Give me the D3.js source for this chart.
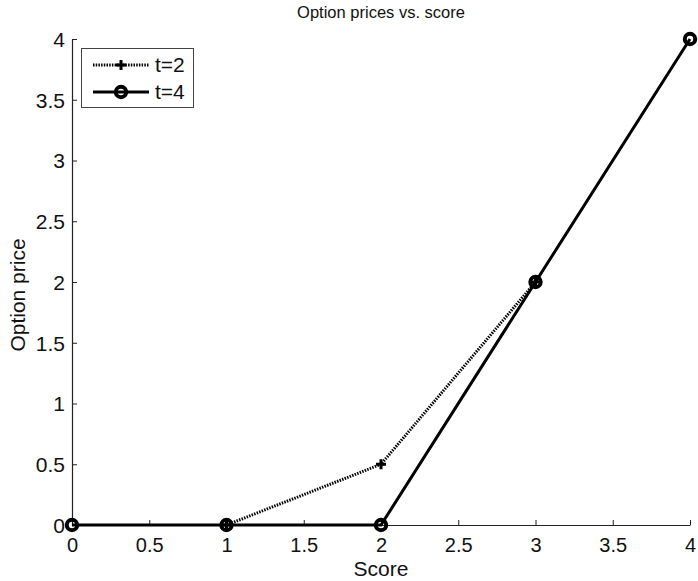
<!DOCTYPE html>
<html>
<head>
<meta charset="utf-8">
<script src="https://cdn.jsdelivr.net/npm/d3@7"></script>
<style>
  html, body { margin: 0; padding: 0; background: #fff; }
  svg { display: block; font-family: "Liberation Sans", Arial, sans-serif; }
</style>
</head>
<body>
<svg id="chart" width="698" height="581"></svg>
<script>
// Score grid for the t=4 curve
const scoresT4 = [0, 1, 2, 3, 4];
const pricesT4 = [0, 0, 0, 2, 4];
// Score grid for the t=2 curve
const scoresT2 = [1, 2, 3];
const pricesT2 = [0, 0.5, 2];
const seriesNames = ["t=2", "t=4"];
const xTicks = [0, 0.5, 1, 1.5, 2, 2.5, 3, 3.5, 4];
const yTicks = [0, 0.5, 1, 1.5, 2, 2.5, 3, 3.5, 4];

const svg = d3.select("#chart");
const plotLeft = 72, plotRight = 690, plotTop = 39, plotBottom = 525;
const font = "'Liberation Sans', Arial, sans-serif";

const x = d3.scaleLinear().domain([0, 4]).range([plotLeft, plotRight]);
const y = d3.scaleLinear().domain([0, 4]).range([plotBottom, plotTop]);

// Axes (ticks point inward, no box)
const xAxis = d3.axisBottom(x).tickValues(xTicks).tickFormat(d3.format("~g"))
  .tickSizeInner(-5).tickSizeOuter(0).tickPadding(13);
const yAxis = d3.axisLeft(y).tickValues(yTicks).tickFormat(d3.format("~g"))
  .tickSizeInner(-5).tickSizeOuter(0).tickPadding(7);

const gx = svg.append("g").attr("transform", `translate(0,${plotBottom})`).call(xAxis);
const gy = svg.append("g").attr("transform", `translate(${plotLeft},0)`).call(yAxis);
[gx, gy].forEach(g => {
  g.select(".domain").attr("stroke", "#222").attr("stroke-width", 1.2);
  g.selectAll(".tick line").attr("stroke", "#222").attr("stroke-width", 1);
  g.selectAll(".tick text").attr("fill", "#111").style("font-size", "20px")
    .style("font-family", font);
});
gy.selectAll(".tick text").attr("dy", "0.35em").style("font-size", "21px");

// Title and axis labels
svg.append("text").attr("x", (plotLeft + plotRight) / 2).attr("y", 18)
  .attr("text-anchor", "middle").style("font-size", "16.5px").attr("fill", "#111")
  .text("Option prices vs. score");
svg.append("text").attr("x", (plotLeft + plotRight) / 2).attr("y", 576)
  .attr("text-anchor", "middle").style("font-size", "21px").attr("fill", "#111")
  .text("Score");
svg.append("text").attr("transform", `translate(25,295) rotate(-90)`)
  .attr("text-anchor", "middle").style("font-size", "21px").attr("fill", "#111")
  .text("Option price");

const line = d3.line().x(d => x(d[0])).y(d => y(d[1]));
const t2 = scoresT2.map((s, i) => [s, pricesT2[i]]);
const t4 = scoresT4.map((s, i) => [s, pricesT4[i]]);

// t=4 : solid line, open circles
svg.append("path").datum(t4).attr("d", line)
  .attr("fill", "none").attr("stroke", "#000").attr("stroke-width", 3);
// t=2 : dotted line, plus markers
svg.append("path").datum(t2).attr("d", line)
  .attr("fill", "none").attr("stroke", "#000").attr("stroke-width", 3)
  .attr("stroke-dasharray", "1.5,1.2");

function plus(g, cx, cy, r) {
  g.append("path")
    .attr("d", `M${cx - r},${cy}H${cx + r}M${cx},${cy - r}V${cy + r}`)
    .attr("stroke", "#000").attr("stroke-width", 3).attr("fill", "none");
}
function circle(g, cx, cy) {
  g.append("circle").attr("cx", cx).attr("cy", cy).attr("r", 5.2)
    .attr("fill", "none").attr("stroke", "#000").attr("stroke-width", 4);
}

const marks = svg.append("g");
t4.forEach(d => circle(marks, x(d[0]), y(d[1])));
t2.forEach(d => plus(marks, x(d[0]), y(d[1]), 5));

// Legend
const lg = svg.append("g");
lg.append("rect").attr("x", 81.5).attr("y", 48.5).attr("width", 112).attr("height", 59)
  .attr("fill", "#fff").attr("stroke", "#444").attr("stroke-width", 1);
const rows = [65, 92];
lg.append("line").attr("x1", 93).attr("x2", 149).attr("y1", rows[0]).attr("y2", rows[0])
  .attr("stroke", "#000").attr("stroke-width", 3).attr("stroke-dasharray", "1.5,1.2");
plus(lg, 121, rows[0], 5);
lg.append("line").attr("x1", 93).attr("x2", 149).attr("y1", rows[1]).attr("y2", rows[1])
  .attr("stroke", "#000").attr("stroke-width", 3);
circle(lg, 121, rows[1]);
seriesNames.forEach((n, i) => {
  lg.append("text").attr("x", 155).attr("y", rows[i]).attr("dy", "0.35em")
    .style("font-size", "21px").attr("fill", "#111").text(n);
});
</script>
</body>
</html>
